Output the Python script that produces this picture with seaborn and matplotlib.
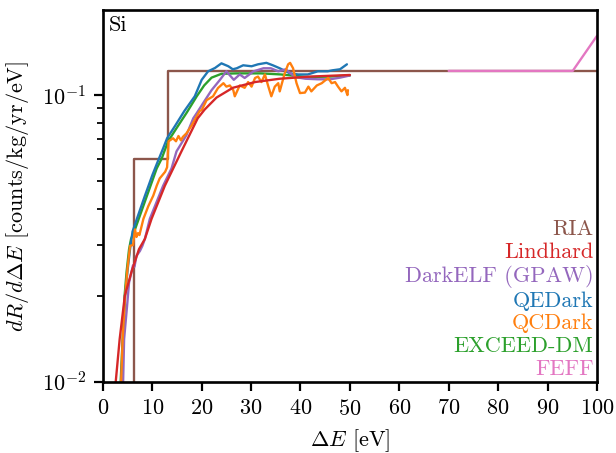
import matplotlib
matplotlib.use("Agg")
import matplotlib.pyplot as plt
import seaborn as sns
import pandas as pd

# ---------------- data ----------------
E_ria = [0.0, 6.3, 13.2, 100.0]
R_ria = [0.001, 0.060, 0.1214, 0.1214]

E_feff = [70.0, 95.1, 100.0]
R_feff = [0.1214, 0.1214, 0.1607]

E_lind = [2.3, 2.6, 3.4, 4.45, 5.8, 7.3, 8.5, 9.85, 12.55, 15.9, 19.2, 20.6,
          23.0, 26.3, 30.8, 35.8, 42.0, 50.0]
R_lind = [0.0088, 0.010, 0.0141, 0.020, 0.0242, 0.029, 0.0315, 0.037, 0.0483,
          0.0636, 0.083, 0.089, 0.098, 0.106, 0.111, 0.114, 0.116, 0.1175]

E_exceed = [3.3, 3.6, 4.0, 4.4, 4.8, 5.3, 5.7, 6.5, 8.5, 10.9, 11.9, 13.2, 14.9,
            17.0, 19.0, 20.5, 22.0, 24.0, 27.0, 32.0, 36.0, 41.5, 46.0, 50.0]
R_exceed = [0.0088, 0.010, 0.0141, 0.020, 0.0242, 0.029, 0.0315, 0.034, 0.0425,
            0.0555, 0.060, 0.069, 0.0766, 0.087, 0.099, 0.108, 0.115, 0.1186,
            0.119, 0.119, 0.118, 0.1155, 0.116, 0.117]

E_qed = [3.4, 3.7, 4.1, 4.5, 5.0, 5.5, 6.0, 7.0, 8.5, 10.0, 11.0, 12.2, 13.0,
         14.6, 16.5, 18.6, 20.0, 21.3, 22.7, 24.0, 25.4, 26.3, 27.1, 28.4, 30.1,
         31.4, 33.1, 34.4, 35.8, 37.9, 39.5, 41.5, 43.5, 45.5, 46.5, 48.0, 49.4]
R_qed = [0.0088, 0.010, 0.0141, 0.020, 0.0245, 0.029, 0.0334, 0.0375, 0.0445,
         0.0525, 0.058, 0.0652, 0.0707, 0.078, 0.088, 0.099, 0.113, 0.121,
         0.1243, 0.129, 0.126, 0.123, 0.124, 0.127, 0.126, 0.128, 0.1295,
         0.127, 0.124, 0.119, 0.118, 0.118, 0.121, 0.121, 0.122, 0.123, 0.128]

E_delf = [4.0, 4.1, 4.3, 4.9, 5.3, 5.8, 6.1, 6.4, 6.8, 7.5, 8.0, 8.5, 9.5, 10.9,
          12.2, 13.9, 14.9, 16.9, 18.3, 19.0, 20.6, 22.0, 23.7, 25.0, 26.5,
          27.7, 28.7, 30.5, 32.5, 34.0, 35.5, 37.0, 38.9, 41.0, 43.5, 46.0,
          48.0, 50.0]
R_delf = [0.0085, 0.010, 0.0141, 0.0184, 0.0222, 0.0242, 0.0255, 0.0252,
          0.0275, 0.0286, 0.0298, 0.0315, 0.037, 0.0425, 0.0483, 0.0555,
          0.0636, 0.0724, 0.083, 0.0865, 0.0955, 0.104, 0.113, 0.121, 0.113,
          0.118, 0.1147, 0.121, 0.124, 0.124, 0.121, 0.123, 0.1155, 0.114,
          0.1135, 0.1135, 0.115, 0.117]

E_qcd = [3.6, 4.0, 4.5, 5.0, 5.5, 6.1, 6.5, 6.8, 7.1, 7.4, 8.2, 9.2, 10.2, 10.9,
         11.5, 12.6, 13.0, 13.3, 14.2, 14.8, 15.3, 15.8, 16.2, 16.9, 18.0,
         19.6, 20.0, 21.0, 22.3, 23.3, 24.4, 25.0, 25.7, 26.4, 26.7, 27.7,
         28.7, 29.4, 30.1, 30.8, 31.4, 32.1, 32.8, 33.5, 34.1, 34.8, 35.5,
         35.8, 36.8, 37.5, 37.9, 38.5, 39.2, 39.9, 40.9, 41.6, 42.2, 43.3,
         44.3, 45.6, 46.3, 47.0, 47.6, 48.3, 49.0, 49.5, 49.6]
R_qcd = [0.009, 0.0141, 0.020, 0.025, 0.0298, 0.030, 0.034, 0.032, 0.033,
         0.0325, 0.037, 0.041, 0.0446, 0.0483, 0.0512, 0.054, 0.056, 0.069,
         0.0707, 0.069, 0.072, 0.0695, 0.0715, 0.0735, 0.0785, 0.088, 0.0886,
         0.096, 0.099, 0.1058, 0.110, 0.107, 0.108, 0.104, 0.099, 0.108, 0.106,
         0.111, 0.107, 0.1147, 0.116, 0.111, 0.118, 0.107, 0.099, 0.107, 0.110,
         0.103, 0.119, 0.128, 0.1295, 0.124, 0.110, 0.1016, 0.102, 0.107,
         0.103, 0.108, 0.110, 0.1147, 0.110, 0.111, 0.107, 0.103, 0.106,
         0.100, 0.104]

legend_order = ["RIA", "Lindhard", "DarkELF (GPAW)", "QEDark", "QCDark",
                "EXCEED-DM", "FEFF"]
x_ticks = [0, 10, 20, 30, 40, 50, 60, 70, 80, 90, 100]

# ---------------- style ----------------
sns.set_style("ticks")
plt.rcParams.update({
    "font.family": ["cmr10", "DejaVu Serif"],
    "mathtext.fontset": "cm",
    "axes.formatter.use_mathtext": True,
    "font.size": 10,
    "axes.edgecolor": "black",
    "axes.labelcolor": "black",
    "text.color": "black",
    "xtick.color": "black",
    "ytick.color": "black",
    "axes.linewidth": 1.2,
    "xtick.major.width": 1.0,
    "ytick.major.width": 1.0,
    "ytick.minor.width": 0.8,
    "xtick.major.size": 4.0,
    "ytick.major.size": 4.0,
    "ytick.minor.size": 2.5,
})

fig, ax = plt.subplots(figsize=(3.85, 2.83125), dpi=160)
fig.subplots_adjust(left=0.167, right=0.969, bottom=0.157, top=0.978)

lw = 1.05
series = [
    ("RIA", E_ria, R_ria, "tab:brown", dict(drawstyle="steps-post")),
    ("FEFF", E_feff, R_feff, "tab:pink", {}),
    ("EXCEED-DM", E_exceed, R_exceed, "tab:green", {}),
    ("QEDark", E_qed, R_qed, "tab:blue", {}),
    ("DarkELF (GPAW)", E_delf, R_delf, "tab:purple", {}),
    ("QCDark", E_qcd, R_qcd, "tab:orange", {}),
    ("Lindhard", E_lind, R_lind, "tab:red", {}),
]
for name, xs, ys, col, kw in series:
    df = pd.DataFrame({"E": xs, "R": ys})
    sns.lineplot(data=df, x="E", y="R", ax=ax, color=col, lw=lw, label=name,
                 estimator=None, sort=False, **kw)

ax.set_yscale("log")
ax.set_xlim(0, 100)
ax.set_ylim(0.01, 0.198)
ax.set_xticks(x_ticks)
ax.set_xlabel(r"$\Delta E$ [eV]")
ax.set_ylabel(r"$dR/d\Delta E$ [counts/kg/yr/eV]", labelpad=5)
ax.tick_params(axis="x", which="minor", bottom=False)

ax.text(0.012, 0.985, "Si", transform=ax.transAxes, ha="left", va="top")

handles, labels = ax.get_legend_handles_labels()
hmap = dict(zip(labels, handles))
leg = ax.legend([hmap[n] for n in legend_order], legend_order,
                loc="lower right", frameon=False, handlelength=0,
                handletextpad=0, markerfirst=False, labelcolor="linecolor",
                labelspacing=0.14, borderaxespad=0.0, borderpad=0.15)
for h in leg.legend_handles:
    h.set_visible(False)

fig.savefig("out.png", dpi=160)
